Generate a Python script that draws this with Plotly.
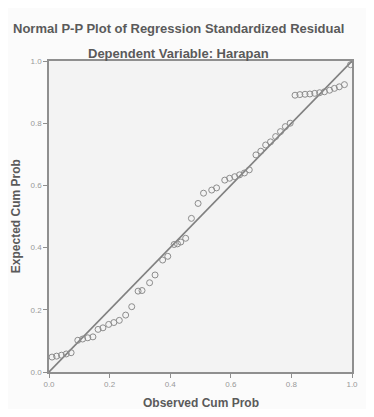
import plotly.graph_objects as go

# Observed cumulative probability (x) and expected cumulative probability (y)
observed_cum_prob = [0.010, 0.025, 0.041, 0.057, 0.073, 0.095, 0.111, 0.128, 0.145, 0.162,
                     0.178, 0.197, 0.214, 0.232, 0.253, 0.273, 0.294, 0.307, 0.332, 0.350,
                     0.375, 0.392, 0.413, 0.424, 0.435, 0.451, 0.470, 0.492, 0.510, 0.537,
                     0.553, 0.580, 0.596, 0.613, 0.629, 0.645, 0.661, 0.683, 0.699, 0.715,
                     0.731, 0.748, 0.764, 0.780, 0.796, 0.812, 0.828, 0.845, 0.861, 0.877,
                     0.893, 0.909, 0.926, 0.942, 0.958, 0.975, 0.995]
expected_cum_prob = [0.048, 0.051, 0.054, 0.058, 0.062, 0.102, 0.106, 0.110, 0.113, 0.137,
                     0.142, 0.153, 0.159, 0.166, 0.183, 0.210, 0.260, 0.262, 0.287, 0.312,
                     0.360, 0.372, 0.410, 0.412, 0.418, 0.430, 0.494, 0.542, 0.575, 0.585,
                     0.592, 0.617, 0.623, 0.628, 0.634, 0.640, 0.650, 0.698, 0.710, 0.730,
                     0.740, 0.757, 0.773, 0.789, 0.800, 0.890, 0.892, 0.893, 0.894, 0.896,
                     0.898, 0.901, 0.906, 0.912, 0.917, 0.924, 0.988]
ref_line = [0.0, 1.0]
tick_vals = [0.0, 0.2, 0.4, 0.6, 0.8, 1.0]
tick_text = ["0.0", "0.2", "0.4", "0.6", "0.8", "1.0"]

title = "Normal P-P Plot of Regression Standardized Residual"
subtitle = "Dependent Variable: Harapan"
x_title = "Observed Cum Prob"
y_title = "Expected Cum Prob"

fig = go.Figure()
fig.add_trace(go.Scatter(x=ref_line, y=ref_line, mode="lines",
                         line=dict(color="#808080", width=1.6), hoverinfo="skip"))
fig.add_trace(go.Scatter(x=observed_cum_prob, y=expected_cum_prob, mode="markers",
                         marker=dict(symbol="circle-open", size=6,
                                     color="#8c8c8c", line=dict(width=1, color="#8c8c8c"))))

axis_common = dict(range=[0, 1], tickvals=tick_vals, ticktext=tick_text,
                   showgrid=False, zeroline=False, showline=True, linecolor="#8f8f8f",
                   linewidth=1.5, mirror=True, ticks="outside", ticklen=4,
                   tickcolor="#8f8f8f", tickfont=dict(family="Liberation Sans", size=8, color="#999999"),
                   fixedrange=True)
fig.update_xaxes(**axis_common)
fig.update_yaxes(**axis_common)

font_t = dict(family="Liberation Sans", size=13, color="#5a5a5a")
ann = dict(xref="paper", yref="paper", showarrow=False, xanchor="center", yanchor="middle")
fig.update_layout(
    width=358, height=401,
    margin=dict(l=41, r=8, t=53, b=37),
    paper_bgcolor="#fbfbfb", plot_bgcolor="#f3f3f3",
    showlegend=False,
    annotations=[
        dict(text="<b>" + title + "</b>", x=0.427, y=1.106, font=font_t, **ann),
        dict(text="<b>" + subtitle + "</b>", x=0.426, y=1.023, font=font_t, **ann),
        dict(text="<b>" + x_title + "</b>", x=0.502, y=-0.10,
             font=dict(family="Liberation Sans", size=12, color="#5a5a5a"), **ann),
        dict(text="<b>" + y_title + "</b>", x=-0.11, y=0.5, textangle=-90,
             font=dict(family="Liberation Sans", size=12, color="#5a5a5a"), **ann),
    ],
)
fig.write_html("out.html")
